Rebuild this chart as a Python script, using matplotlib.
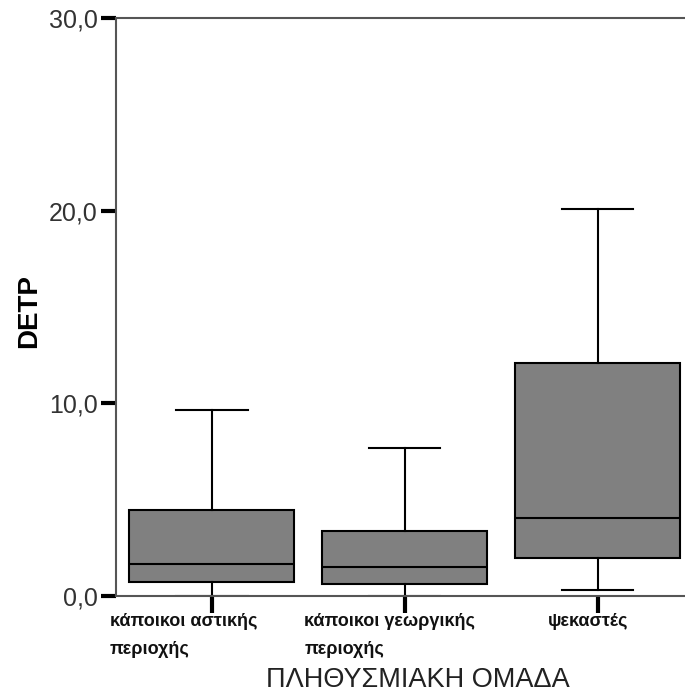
import numpy as np
import matplotlib.pyplot as plt

# box statistics
groups = ['κάποικοι αστικής\nπεριοχής', 'κάποικοι γεωργικής\nπεριοχής', 'ψεκαστές']
whis_lo = [0.0, 0.0, 0.31]
q1 = [0.71, 0.62, 1.96]
medians = [1.66, 1.52, 4.03]
q3 = [4.45, 3.39, 12.07]
whis_hi = [9.65, 7.66, 20.07]

yticks = [0, 10, 20, 30]
ytick_labels = ['0,0', '10,0', '20,0', '30,0']

plt.rcParams['font.family'] = ['Liberation Sans', 'DejaVu Sans']

fig = plt.figure(figsize=(6.85, 6.93), dpi=100)
ax = fig.add_axes([115.5 / 685, 97 / 693, 578.5 / 685, 578 / 693])

stats = []
for i in range(len(groups)):
    stats.append(dict(whislo=whis_lo[i], q1=q1[i], med=medians[i], q3=q3[i],
                      whishi=whis_hi[i], fliers=[]))

line = dict(color='black', linewidth=1.5)
ax.bxp(stats, positions=range(len(groups)), widths=0.855, capwidths=0.37,
       patch_artist=True, showfliers=False,
       boxprops=dict(facecolor='#808080', edgecolor='black', linewidth=1.5),
       medianprops=line, whiskerprops=line, capprops=line)

ax.set_xlim(-0.5, 2.5)
ax.set_ylim(0, 30)
ax.set_yticks(yticks, labels=ytick_labels)
ax.set_xticks(range(len(groups)), labels=[''] * len(groups))

ax.tick_params(axis='y', direction='out', length=11, width=3, color='black',
               labelsize=18, labelcolor='#333333', pad=2)
ax.tick_params(axis='x', direction='out', length=12, width=3, color='black')

for side in ['left', 'top', 'bottom', 'right']:
    ax.spines[side].set_color('#555555')
    ax.spines[side].set_linewidth(1.5)

# category labels, left aligned like the original
label_shift = [-0.53, -0.52, -0.26]
for i, name in enumerate(groups):
    ax.text(i + label_shift[i], -0.029, name, transform=ax.get_xaxis_transform(),
            ha='left', va='top', fontsize=13, fontweight='bold',
            linespacing=1.85, color='#111111')

fig.text(418 / 685, 6 / 693, 'ΠΛΗΘΥΣΜΙΑΚΗ ΟΜΑΔΑ', ha='center', va='baseline',
         fontsize=19.5, color='#222222')
fig.text(29 / 685, (693 - 311) / 693, 'DETP', rotation=90, ha='center', va='center',
         fontsize=20, fontweight='bold', color='black')

fig.savefig('out.png', dpi=100)
